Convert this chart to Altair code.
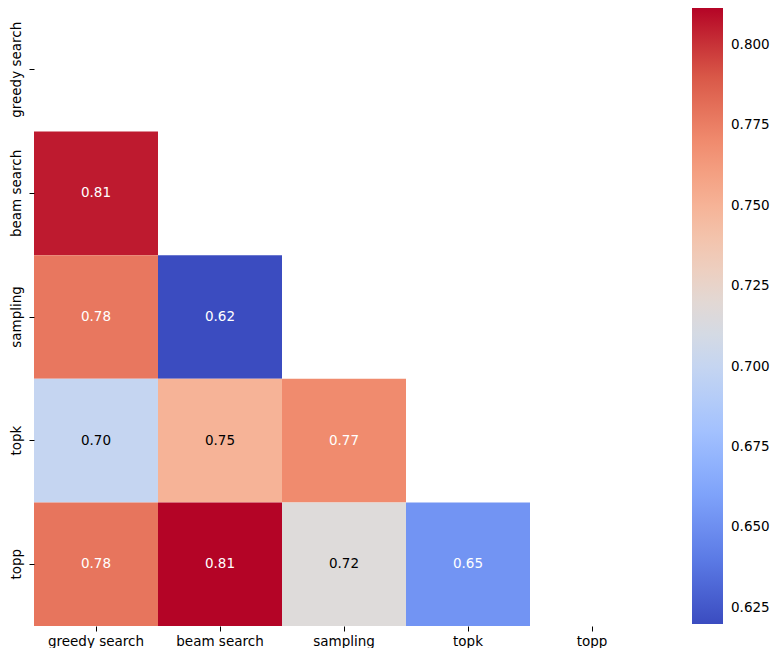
import altair as alt
import pandas as pd

labels = ["greedy search", "beam search", "sampling", "topk", "topp"]

# lower-triangle values (row = y, col = x)
row_names = ["beam search", "sampling", "sampling", "topk", "topk", "topk", "topp", "topp", "topp", "topp"]
col_names = ["greedy search", "greedy search", "beam search", "greedy search", "beam search", "sampling",
             "greedy search", "beam search", "sampling", "topk"]
values = [0.806, 0.778, 0.620, 0.700, 0.750, 0.770, 0.779, 0.8115, 0.717, 0.653]
text_dark = [False, False, False, True, True, False, False, False, True, False]

coolwarm = ["#3b4cc0", "#5a78e4", "#7b9ff9", "#9ebeff", "#c0d4f5", "#dddcdc",
            "#f2cbb7", "#f7ac8e", "#ee8468", "#d65244", "#b40426"]
vmin, vmax = 0.620, 0.8115
legend_ticks = [0.625, 0.650, 0.675, 0.700, 0.725, 0.750, 0.775, 0.800]

df = pd.DataFrame({
    "row": row_names,
    "col": col_names,
    "value": values,
    "dark": text_dark,
})

xenc = alt.X("col:N", scale=alt.Scale(domain=labels, paddingInner=0, paddingOuter=0),
             sort=labels, title=None,
             axis=alt.Axis(labelAngle=0, domain=False, grid=False, tickSize=5, labelFontSize=13.5,
                           labelFont="DejaVu Sans", labelColor="black", tickColor="black", labelPadding=3))
yenc = alt.Y("row:N", scale=alt.Scale(domain=labels, paddingInner=0, paddingOuter=0),
             sort=labels, title=None,
             axis=alt.Axis(labelAngle=-90, labelAlign="center", labelBaseline="bottom", domain=False,
                           grid=False, tickSize=5, labelFontSize=13.5, labelFont="DejaVu Sans",
                           labelColor="black", tickColor="black", labelPadding=6))

rect = alt.Chart(df).mark_rect().encode(
    x=xenc, y=yenc,
    color=alt.Color("value:Q",
                    scale=alt.Scale(domain=[vmin, vmax], range=coolwarm, clamp=True, interpolate="rgb"),
                    legend=alt.Legend(title=None, orient="right", offset=38, gradientLength=616,
                                      gradientThickness=31, values=legend_ticks, format=".3f",
                                      labelFontSize=13.5, labelFont="DejaVu Sans", labelColor="black",
                                      labelOffset=8, gradientStrokeWidth=0, padding=0)),
)

text = alt.Chart(df).mark_text(fontSize=13.5, font="DejaVu Sans").encode(
    x=alt.X("col:N", sort=labels),
    y=alt.Y("row:N", sort=labels),
    text=alt.Text("value:Q", format=".2f"),
    color=alt.condition(alt.datum.dark, alt.value("black"), alt.value("white")),
)

chart = alt.layer(rect, text).properties(
    width=620, height=618,
    padding={"left": 0, "top": 0, "right": 0, "bottom": 0},
).configure_view(stroke=None)

chart.save("out.html", embed_options={"renderer": "svg", "actions": False})
